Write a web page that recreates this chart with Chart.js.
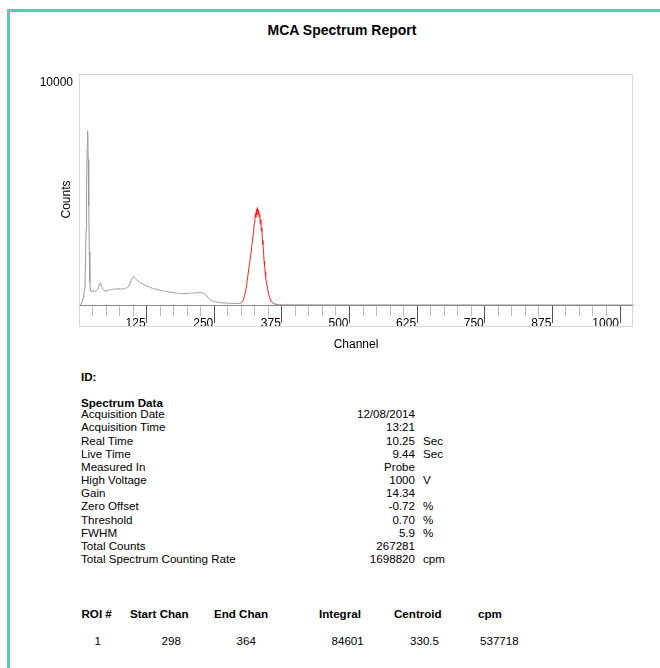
<!DOCTYPE html>
<html><head><meta charset="utf-8">
<script src="https://cdn.jsdelivr.net/npm/chart.js@4"></script>
<style>
html,body{margin:0;padding:0;background:#fff;}
body{width:660px;height:668px;overflow:hidden;position:relative;font-family:'Liberation Sans',Arial,sans-serif;color:#000;}
#frame{position:absolute;left:7px;top:9px;width:700px;height:700px;border-left:3px solid #5cc7b7;border-top:3px solid #5cc7b7;}
#chart{position:absolute;left:0;top:0;}
.t{position:absolute;font-size:11.6px;line-height:14px;white-space:nowrap;}
.b{font-weight:bold;}
#title{position:absolute;left:0;width:684px;top:22px;text-align:center;font-size:14px;line-height:16px;font-weight:bold;}
</style></head>
<body>
<div id="frame"></div>
<div id="title">MCA Spectrum Report</div>
<canvas id="chart" width="660" height="360" style="width:660px;height:360px;"></canvas>
<div id="text"></div>
<script>
// ---- spectrum data (channel, counts) ----
const channels = [
  0,2,4,6,8,9,10,11,12,13,14,15,16,17,18,19,20,21,
  22,24,26,28,30,32,34,36,38,39,
  40,42,44,46,48,50,52,54,56,58,
  60,62,64,66,68,70,72,74,76,78,
  80,82,84,86,88,90,92,94,96,98,
  100,102,104,106,108,110,112,114,116,118,
  120,122,124,126,128,130,132,134,136,138,
  140,142,144,146,148,150,152,154,156,158,
  160,162,164,166,168,170,172,174,176,178,
  180,182,184,186,188,190,192,194,196,198,
  200,202,204,206,208,210,212,214,216,218,
  220,222,224,226,228,230,232,
  234,236,238,240,242,244,246,248,250,254,258,262,266,270,275,280,285,290,295,
  298,300,302,304,306,308,310,312,314,316,318,
  319,320,321,322,323,324,325,326,327,328,
  329,330,331,332,333,334,335,336,337,338,
  339,340,341,342,343,344,345,346,
  348,350,352,354,356,358,360,362,364,
  366,370,375,380,390,400,425,450,500,550,600,700,800,900,1000,1024
];
const counts = [
  0,0,40,150,300,450,650,1000,1800,3200,5000,6800,7550,6300,4300,2300,1000,650,
  600,580,610,590,600,620,660,760,900,940,
  900,800,700,640,620,600,610,640,650,670,
  660,690,670,700,680,710,690,700,680,710,
  700,690,720,710,740,760,820,920,1050,1150,
  1220,1200,1150,1110,1060,1030,980,960,930,900,
  880,850,830,800,790,770,750,740,720,700,
  690,700,670,660,650,640,620,625,600,595,
  585,595,570,565,560,550,555,540,530,525,
  515,520,500,495,505,490,500,495,485,505,
  490,515,495,505,525,500,535,505,545,510,
  535,515,545,525,530,510,490,
  450,390,330,280,240,210,185,165,150,130,115,100,90,85,80,75,70,68,70,
  75,100,140,250,400,600,900,1250,1600,1900,2300,
  2500,2700,2900,3050,3300,3550,3700,3950,3800,4150,
  3900,4220,3950,4100,3800,3950,3500,3700,3200,3350,
  2800,2600,2400,1900,1700,1450,1200,1050,
  800,520,350,220,140,90,60,40,30,
  22,15,12,10,8,7,6,5,4,4,3,3,2,2,1,1
];
const roiStart = 298;
const roiEnd = 364;
const xMax = 1024;
const yMax = 10000;
const xTickStep = 25;
const xMajorStep = 125;

// ---- report text ----
const specLabels = ['Acquisition Date','Acquisition Time','Real Time','Live Time','Measured In','High Voltage','Gain','Zero Offset','Threshold','FWHM','Total Counts','Total Spectrum Counting Rate'];
const specValues = ['12/08/2014','13:21','10.25','9.44','Probe','1000','14.34','-0.72','0.70','5.9','267281','1698820'];
const specUnits  = ['','','Sec','Sec','','V','','%','%','%','','cpm'];
const roiHeaders = ['ROI #','Start Chan','End Chan','Integral','Centroid','cpm'];
const roiValues  = ['1','298','364','84601','330.5','537718'];

// text layout
const box = document.getElementById('text');
function addText(txt, left, cy, cls, right){
  const d = document.createElement('div');
  d.className = 't' + (cls ? ' ' + cls : '');
  d.textContent = txt;
  d.style.top = (cy - 7) + 'px';
  if (right !== undefined) d.style.right = (660 - right) + 'px'; else d.style.left = left + 'px';
  box.appendChild(d);
}
addText('ID:', 81, 377, 'b');
addText('Spectrum Data', 81, 402.7, 'b');
specLabels.forEach((l, i) => {
  const cy = 414.3 + i * 13.15;
  addText(l, 81, cy);
  addText(specValues[i], 0, cy, '', 415);
  if (specUnits[i]) addText(specUnits[i], 423, cy);
});
const hdrLeft = [81.5, 130, 214, 319, 394, 478];
const valLeft = [94.5, 161.5, 236.5, 331.5, 410, 480];
roiHeaders.forEach((h, i) => addText(h, hdrLeft[i], 614.3, 'b'));
roiValues.forEach((v, i) => addText(v, valLeft[i], 640.7));

// ---- chart ----
const grayPts = [], redPts = [];
let gapAdded = false;
channels.forEach((c, i) => {
  const p = {x: c, y: counts[i]};
  if (c >= roiStart && c <= roiEnd) redPts.push(p);
  if (c <= roiStart || c >= roiEnd) grayPts.push(p);
  else if (!gapAdded) { grayPts.push({x: c, y: null}); gapAdded = true; }
});

const framePlugin = {
  id: 'frame',
  beforeDatasetsDraw(chart) {
    const {ctx, chartArea: a} = chart;
    ctx.save();
    ctx.strokeStyle = '#d9d9d9';
    ctx.lineWidth = 1;
    const l = Math.round(a.left) + 0.5, t = Math.round(a.top) + 0.5;
    const r = Math.round(a.right) - 0.5, b = Math.round(a.bottom) + 21.5;
    ctx.strokeRect(l, t, r - l, b - t);
    ctx.restore();
  }
};

Chart.defaults.font.family = "'Liberation Sans', Arial, sans-serif";
Chart.defaults.font.size = 12;
Chart.defaults.color = '#000';

const isMajor = c => c.tick && c.tick.value % xMajorStep === 0;

new Chart(document.getElementById('chart'), {
  type: 'line',
  data: {
    datasets: [
      {data: redPts, borderColor: '#ff2020', borderWidth: 1, pointRadius: 0, order: 0},
      {data: grayPts, borderColor: '#9a9a9a', borderWidth: 1, pointRadius: 0, spanGaps: false, order: 1}
    ]
  },
  options: {
    responsive: false,
    animation: false,
    events: [],
    layout: {padding: {left: 36, right: 27, top: 74, bottom: 0}},
    plugins: {legend: {display: false}, tooltip: {enabled: false}},
    elements: {line: {tension: 0}},
    scales: {
      x: {
        type: 'linear', min: 0, max: xMax,
        afterFit: s => { s.height = 55; },
        grid: {
          display: true, drawOnChartArea: false, drawTicks: true, tickLength: 18, tickWidth: 1,
          tickColor: c => isMajor(c) ? '#555' : '#bdbdbd',
          tickBorderDash: c => isMajor(c) ? [] : [10, 40]
        },
        border: {display: true, color: '#8a8a8a', width: 1},
        ticks: {
          stepSize: xTickStep, includeBounds: false, autoSkip: false, maxRotation: 0, minRotation: 0,
          align: 'end', padding: -7, labelOffset: -1,
          callback: v => (v > 0 && v % xMajorStep === 0) ? String(v) : ''
        },
        title: {display: true, text: 'Channel', padding: {top: 0, bottom: 8}}
      },
      y: {
        min: 0, max: yMax,
        afterFit: s => { s.width = 43; },
        grid: {display: false, drawTicks: false},
        border: {display: false},
        ticks: {stepSize: yMax, padding: 6, labelOffset: 8.5, callback: v => v === yMax ? String(v) : ''},
        title: {display: true, text: 'Counts      ', padding: {top: 23, bottom: 0}}
      }
    }
  },
  plugins: [framePlugin]
});
</script>
</body></html>
